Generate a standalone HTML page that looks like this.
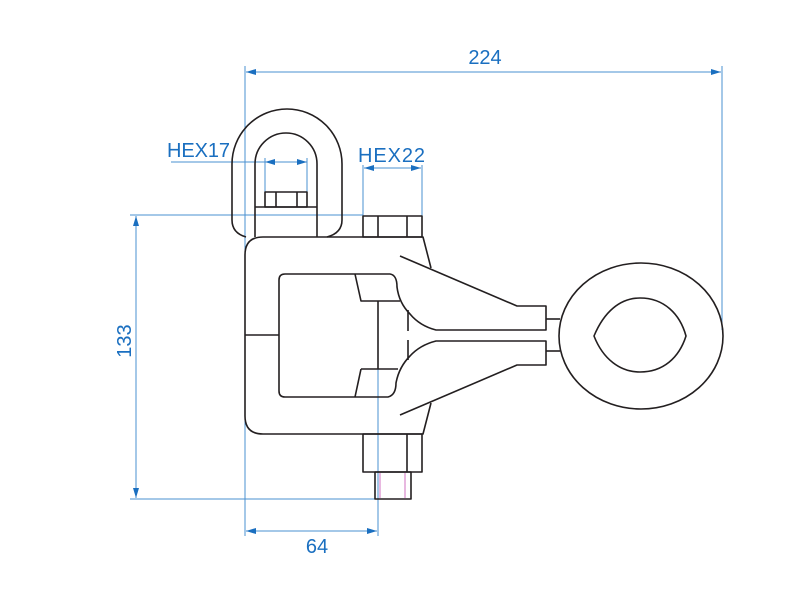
<!DOCTYPE html>
<html><head><meta charset="utf-8"><style>
html,body{margin:0;padding:0;background:#fff;width:800px;height:600px;overflow:hidden}
svg{display:block}
</style></head><body>
<svg width="800" height="600" viewBox="0 0 800 600" xmlns="http://www.w3.org/2000/svg">
<defs>
<marker id="a" viewBox="0 0 10 6" refX="10" refY="3" markerWidth="10" markerHeight="6" orient="auto-start-reverse" markerUnits="userSpaceOnUse">
<path d="M0,0 L10,3 L0,6 z" fill="#1a6fc0"/></marker>
</defs>
<g stroke="#4a90d0" stroke-width="1" fill="none">
<line x1="245" y1="66" x2="245" y2="536"/>
<line x1="722" y1="66" x2="722" y2="330"/>
<line x1="246" y1="72" x2="721" y2="72" marker-start="url(#a)" marker-end="url(#a)"/>
<line x1="130" y1="215" x2="363" y2="215"/>
<line x1="130" y1="499" x2="378" y2="499"/>
<line x1="136" y1="216" x2="136" y2="498" marker-start="url(#a)" marker-end="url(#a)"/>
<line x1="378" y1="302" x2="378" y2="536"/>
<line x1="246" y1="531" x2="377" y2="531" marker-start="url(#a)" marker-end="url(#a)"/>
<line x1="171" y1="162" x2="265" y2="162"/>
<line x1="265" y1="162" x2="307" y2="162" marker-start="url(#a)" marker-end="url(#a)"/>
<line x1="265" y1="158" x2="265" y2="192"/>
<line x1="307" y1="158" x2="307" y2="192"/>
<line x1="364" y1="168" x2="421" y2="168" marker-start="url(#a)" marker-end="url(#a)"/>
<line x1="363" y1="165" x2="363" y2="216"/>
<line x1="422" y1="165" x2="422" y2="216"/>
</g>
<g fill="#1a6fc0" font-family="Liberation Sans, sans-serif" font-size="20">
<text x="485" y="64" text-anchor="middle">224</text>
<text x="167" y="157" textLength="63">HEX17</text>
<text x="358" y="162" textLength="67">HEX22</text>
<text x="317" y="553" text-anchor="middle">64</text>
<text transform="translate(131,341) rotate(-90)" text-anchor="middle">133</text>
</g>
<g stroke="#231f20" stroke-width="1.6" fill="none" stroke-linejoin="round">
<path d="M246,237 Q232,233 232,220 L232,164 A55,55 0 0 1 342,164 L342,220 Q342,233 327,237"/>
<path d="M255,237 L255,164 A31,31 0 0 1 317,164 L317,237"/>
<rect x="265" y="192" width="42" height="15"/>
<line x1="276" y1="192" x2="276" y2="207"/><line x1="297" y1="192" x2="297" y2="207"/>
<line x1="255" y1="207" x2="317" y2="207"/>
<rect x="363" y="216" width="59" height="21"/>
<line x1="378" y1="216" x2="378" y2="237"/><line x1="407" y1="216" x2="407" y2="237"/>
<path d="M245,255 Q245,237 263,237 L423,237 L431,268"/>
<path d="M245,255 L245,416 Q245,434 263,434 L423,434 L431,403"/>
<line x1="245" y1="335" x2="279" y2="335"/>
<path d="M279,335 L279,280 Q279,274 285,274 L390,274 Q397,275 397,287 Q399,303 410,314 Q420,326 436,330 L546,330 L546,306 L517,306 L400,256"/>
<path d="M279,335 L279,391 Q279,397 285,397 L388,397 Q396,395 396,383 Q399,367 410,356 Q420,345 436,341 L546,341 L546,365 L517,365 L400,415"/>
<path d="M355,274 L361,301 L400,301"/>
<path d="M361,369 L355,397"/>
<line x1="361" y1="369" x2="398" y2="369"/>
<line x1="378" y1="301" x2="378" y2="369"/>
<line x1="408" y1="310" x2="408" y2="331"/>
<line x1="408" y1="340" x2="408" y2="360"/>
<line x1="546" y1="319" x2="560" y2="319"/>
<line x1="546" y1="351" x2="560" y2="351"/>
<ellipse cx="641" cy="336" rx="82" ry="73"/>
<path d="M594,336 C604,312 620,298 640,298 C664,298 680,314 686,336 C679,358 663,372 640,372 C620,372 603,359 594,336 Z"/>
<rect x="363" y="434" width="59" height="38"/>
<line x1="407" y1="434" x2="407" y2="472"/>
<rect x="375" y="472" width="36" height="27"/>
</g>
<g stroke="#d070c0" stroke-width="1"><line x1="380" y1="473" x2="380" y2="498"/><line x1="405" y1="473" x2="405" y2="498"/></g>
</svg>
</body></html>
